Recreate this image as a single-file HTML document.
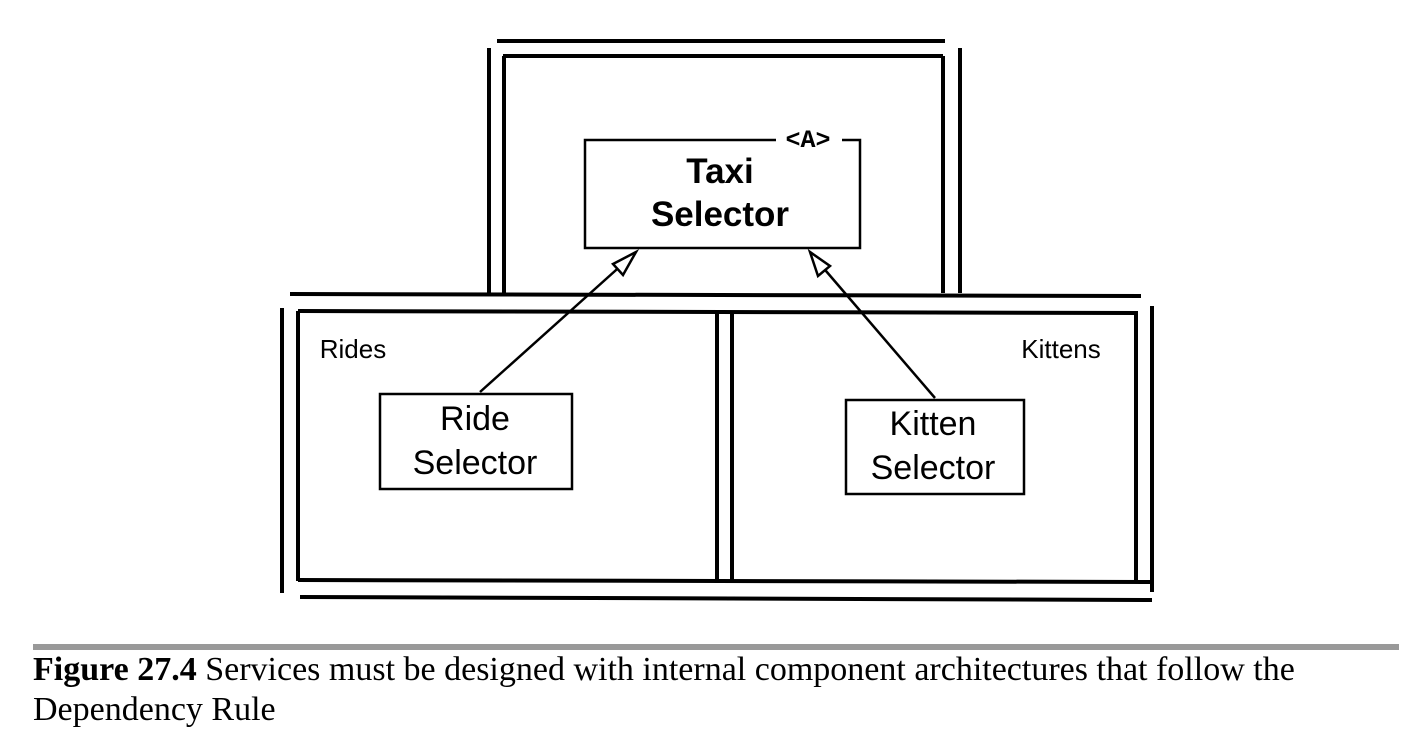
<!DOCTYPE html>
<html><head><style>
body{margin:0;width:1426px;height:750px;background:#fff;overflow:hidden;position:relative}
svg{position:absolute;left:0;top:0}
.cap{position:absolute;left:33px;top:650px;width:1390px;font-family:"Liberation Serif",serif;font-size:34px;line-height:40px;color:#000;white-space:nowrap}
</style></head><body>
<svg width="1426" height="750" viewBox="0 0 1426 750">
<g stroke="#000" stroke-width="4" fill="none">
<line x1="497" y1="41" x2="945" y2="41"/>
<line x1="503" y1="56" x2="943" y2="56"/>
<line x1="489" y1="48" x2="489" y2="293"/>
<line x1="504" y1="56" x2="504" y2="293"/>
<line x1="943" y1="56" x2="943" y2="293"/>
<line x1="960" y1="48" x2="960" y2="293"/>
<line x1="290" y1="294" x2="1141" y2="296"/>
<line x1="298" y1="311" x2="1138" y2="313"/>
<line x1="282" y1="308" x2="282" y2="593"/>
<line x1="298" y1="311" x2="298" y2="581"/>
<line x1="717" y1="312" x2="717" y2="580"/>
<line x1="732" y1="312" x2="732" y2="580"/>
<line x1="1136" y1="312" x2="1136" y2="580"/>
<line x1="1152" y1="306" x2="1152" y2="592"/>
<line x1="298" y1="580" x2="1150" y2="582"/>
<line x1="300" y1="597" x2="1152" y2="600"/>
</g>
<g stroke="#000" stroke-width="2.5" fill="#fff">
<polyline points="776,140 585,140 585,248 860,248 860,140 842,140" fill="none"/>
<rect x="380" y="394" width="192" height="95"/>
<rect x="846" y="400" width="178" height="94"/>
<line x1="480" y1="392" x2="625" y2="262"/>
<line x1="935" y1="398" x2="820" y2="264"/>
<polygon points="636,252 613,264 623,275"/>
<polygon points="810,252 818,276 830,266"/>
</g>
<g font-family="Liberation Sans, sans-serif" fill="#000" text-anchor="middle">
<text x="808" y="147" font-family="Liberation Mono, monospace" font-weight="bold" font-size="25">&lt;A&gt;</text>
<text x="720" y="183" font-weight="bold" font-size="35">Taxi</text>
<text x="720" y="226" font-weight="bold" font-size="35">Selector</text>
<text x="475" y="430" font-size="34">Ride</text>
<text x="475" y="474" font-size="34">Selector</text>
<text x="933" y="435" font-size="34">Kitten</text>
<text x="933" y="479" font-size="34">Selector</text>
<text x="353" y="358" font-size="26">Rides</text>
<text x="1061" y="358" font-size="26">Kittens</text>
</g>
<rect x="33" y="644" width="1366" height="6" fill="#999"/>
</svg>
<div class="cap"><b>Figure 27.4</b> Services must be designed with internal component architectures that follow the<br>Dependency Rule</div>
</body></html>
